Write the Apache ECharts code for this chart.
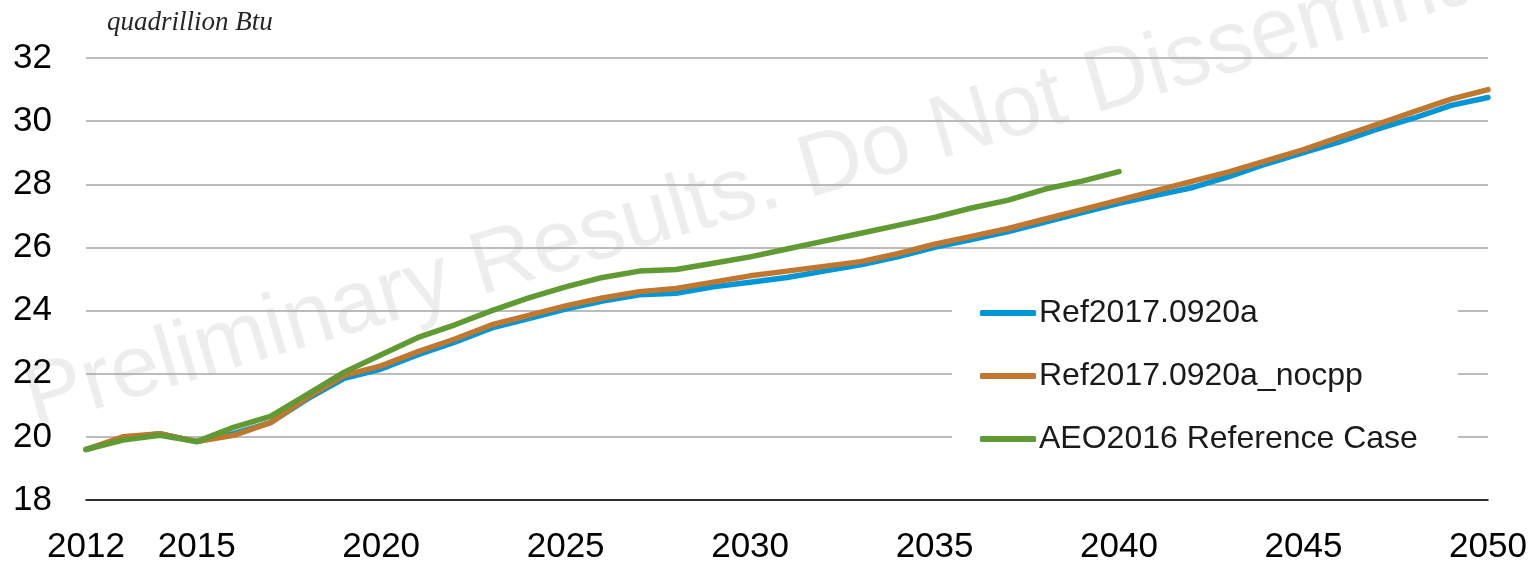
<!DOCTYPE html>
<html>
<head>
<meta charset="utf-8">
<script src="https://cdn.jsdelivr.net/npm/echarts@6/dist/echarts.min.js"></script>
<style>
  html, body { margin: 0; padding: 0; background: #fff; }
  #chart { width: 1532px; height: 562px; }
</style>
</head>
<body>
<div id="chart"></div>
<script>
  // years 2012..2050
  var years = [];
  for (var y = 2012; y <= 2050; y++) years.push(y);
  var xTickLabels = [2012, 2015, 2020, 2025, 2030, 2035, 2040, 2045, 2050];

  var ref2017 = [19.6, 19.95, 20.1, 19.85, 20.1, 20.45, 21.2, 21.85, 22.15, 22.6,
    23.0, 23.45, 23.75, 24.05, 24.3, 24.5, 24.55, 24.75, 24.9, 25.05,
    25.25, 25.45, 25.7, 26.0, 26.25, 26.5, 26.8, 27.1, 27.4, 27.65,
    27.9, 28.25, 28.65, 29.0, 29.35, 29.75, 30.1, 30.5, 30.75];
  var ref2017Nocpp = [19.6, 20.0, 20.1, 19.85, 20.05, 20.45, 21.25, 21.95, 22.25, 22.7,
    23.1, 23.55, 23.85, 24.15, 24.4, 24.6, 24.7, 24.9, 25.1, 25.25,
    25.4, 25.55, 25.8, 26.1, 26.35, 26.6, 26.9, 27.2, 27.5, 27.8,
    28.1, 28.4, 28.75, 29.1, 29.5, 29.9, 30.3, 30.7, 31.0];
  var aeo2016 = [19.6, 19.9, 20.05, 19.85, 20.3, 20.65, 21.35, 22.05, 22.6, 23.15,
    23.55, 24.0, 24.4, 24.75, 25.05, 25.25, 25.3, 25.5, 25.7, 25.95,
    26.2, 26.45, 26.7, 26.95, 27.25, 27.5, 27.85, 28.1, 28.4];

  function pairs(vals) {
    return vals.map(function (v, i) { return [years[i], v]; });
  }

  var font = 'Liberation Sans, Arial, sans-serif';
  var myChart = echarts.init(document.getElementById('chart'));
  var option = {
    animation: false,
    backgroundColor: '#fff',
    grid: { left: 86, right: 44, top: 58, bottom: 62, outerBoundsMode: 'none' },
    graphic: [
      {
        type: 'text',
        z: -10,
        x: 40,
        y: 446,
        rotation: 16.5 * Math.PI / 180,
        style: {
          text: 'Preliminary Results. Do Not Disseminate',
          font: '88px ' + font,
          fill: '#ededed',
          verticalAlign: 'bottom'
        }
      },
      {
        type: 'text',
        left: 107,
        top: 9,
        style: {
          text: 'quadrillion Btu',
          font: 'italic 27px Liberation Serif, Times New Roman, serif',
          fill: '#262626'
        }
      }
    ],
    legend: {
      orient: 'vertical',
      left: 952,
      top: 289,
      width: 496,
      backgroundColor: '#fff',
      padding: [8, 40, 8, 28],
      icon: 'roundRect',
      itemWidth: 56,
      itemHeight: 6,
      itemGap: 31,
      textStyle: { fontFamily: font, fontSize: 32, color: '#1a1a1a', padding: [0, 0, 0, -2] },
      data: ['Ref2017.0920a', 'Ref2017.0920a_nocpp', 'AEO2016 Reference Case']
    },
    xAxis: {
      type: 'value',
      min: 2012,
      max: 2050,
      interval: 1,
      axisLine: { show: true, lineStyle: { color: '#000', width: 1.5 } },
      axisTick: { show: false },
      splitLine: { show: false },
      axisLabel: {
        margin: 30,
        fontFamily: font,
        fontSize: 35,
        color: '#000',
        showMinLabel: true,
        showMaxLabel: true,
        formatter: function (v) {
          return xTickLabels.indexOf(v) >= 0 ? String(v) : '';
        }
      }
    },
    yAxis: {
      type: 'value',
      min: 18,
      max: 32,
      interval: 2,
      axisLine: { show: false },
      axisTick: { show: false },
      splitLine: { lineStyle: { color: '#a6a6a6', width: 1.5 } },
      axisLabel: { margin: 34, fontFamily: font, fontSize: 35, color: '#000' }
    },
    series: [
      {
        name: 'Ref2017.0920a',
        type: 'line',
        showSymbol: false,
        symbol: 'none',
        lineStyle: { color: '#0096d7', width: 5.5, cap: 'round' },
        itemStyle: { color: '#0096d7' },
        data: pairs(ref2017)
      },
      {
        name: 'Ref2017.0920a_nocpp',
        type: 'line',
        showSymbol: false,
        symbol: 'none',
        lineStyle: { color: '#c1782e', width: 5.5, cap: 'round' },
        itemStyle: { color: '#c1782e' },
        data: pairs(ref2017Nocpp)
      },
      {
        name: 'AEO2016 Reference Case',
        type: 'line',
        showSymbol: false,
        symbol: 'none',
        lineStyle: { color: '#5f9b32', width: 5.5, cap: 'round' },
        itemStyle: { color: '#5f9b32' },
        data: pairs(aeo2016)
      }
    ]
  };
  myChart.setOption(option);
</script>
</body>
</html>
